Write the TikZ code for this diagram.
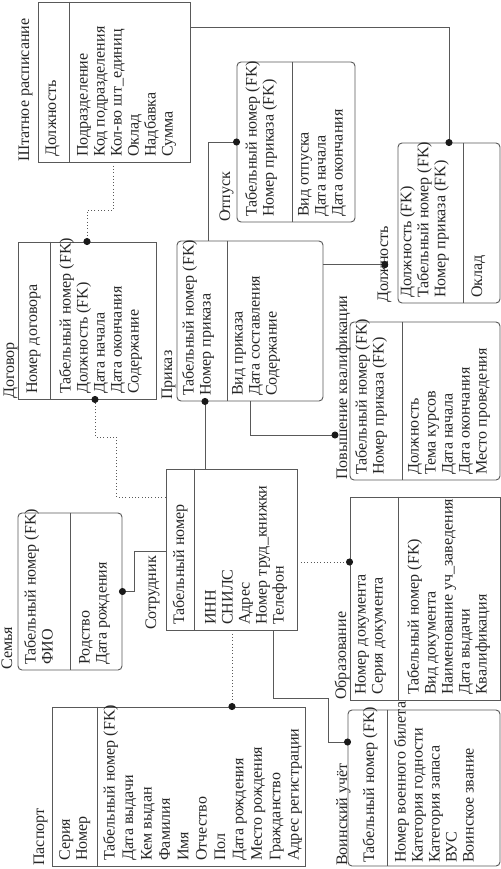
\documentclass[tikz,border=0pt]{standalone}
\usepackage{fontspec}
\setmainfont{Liberation Serif}
\usetikzlibrary{arrows.meta,fit}

\begin{document}
\begin{tikzpicture}[
  x=0.3mm, y=0.3mm,
  font=\fontsize{13.7}{14.5}\selectfont,
  ent/.style={draw=black!65, line width=0.8pt, inner sep=0pt},
  rnd/.style={ent, rounded corners=1.2mm},
  sep/.style={draw=black!65, line width=0.8pt},
  txt/.style={rotate=90, anchor=north west, inner sep=0pt, align=left,
    text=black!85, execute at begin node=\strut},
  rel/.style={draw=black!65, line width=0.8pt},
  dotrel/.style={rel, dotted},
  endot/.style={-{Circle[length=2.1mm, color=black!90]}, shorten >=-1.05mm}
]
\path[use as bounding box] (0,0) rectangle (501,-869);

% Штатное расписание
\node[ent, fit={(38,-2) (190,-162)}] (shtat) {};
\draw[sep] (shtat.north -| 69,0) -- (shtat.south -| 69,0);
\node[txt] (shtat-t) at (17,-162) {Штатное расписание};
\node[txt] (shtat-k) at (44,-157) {Должность};
\node[txt] (shtat-a) at (77,-157) {Подразделение\\Код подразделения\\Кол-во шт\_единиц\\Оклад\\Надбавка\\Сумма};

% Договор
\node[ent, fit={(18,-242) (156,-399)}] (dogovor) {};
\draw[sep] (dogovor.north -| 50,0) -- (dogovor.south -| 50,0);
\node[txt] (dogovor-t) at (2,-399) {Договор};
\node[txt] (dogovor-k) at (25,-394) {Номер договора};
\node[txt] (dogovor-a) at (59,-394) {Табельный номер (FK)\\Должность (FK)\\Дата начала\\Дата окончания\\Содержание};

% Приказ
\node[rnd, fit={(177,-241) (323,-401)}] (prikaz) {};
\draw[sep] (prikaz.north -| 227,0) -- (prikaz.south -| 227,0);
\node[txt] (prikaz-t) at (160,-400) {Приказ};
\node[txt] (prikaz-k) at (182,-396) {Табельный номер (FK)\\Номер приказа};
\node[txt] (prikaz-a) at (232,-396) {Вид приказа\\Дата составления\\Содержание};

% Отпуск
\node[rnd, fit={(237,-62) (355,-222)}] (otpusk) {};
\draw[sep] (otpusk.north -| 292,0) -- (otpusk.south -| 292,0);
\node[txt] (otpusk-t) at (218,-222) {Отпуск};
\node[txt] (otpusk-k) at (245,-217) {Табельный номер (FK)\\Номер приказа (FK)};
\node[txt] (otpusk-a) at (298,-217) {Вид отпуска\\Дата начала\\Дата окончания};

% Должность
\node[rnd, fit={(398,-143) (500,-303)}] (dolzh) {};
\draw[sep] (dolzh.north -| 463,0) -- (dolzh.south -| 463,0);
\node[txt] (dolzh-t) at (376,-303) {Должность};
\node[txt] (dolzh-k) at (400,-298) {Должность (FK)\\Табельный номер (FK)\\Номер приказа (FK)};
\node[txt] (dolzh-a) at (470,-298) {Оклад};

% Повышение квалификации
\node[rnd, fit={(350,-322) (500,-480)}] (povysh) {};
\draw[sep] (povysh.north -| 402,0) -- (povysh.south -| 402,0);
\node[txt] (povysh-t) at (335,-480) {Повышение квалификации};
\node[txt] (povysh-k) at (355,-475) {Табельный номер (FK)\\Номер приказа (FK)};
\node[txt] (povysh-a) at (408,-475) {Должность\\Тема курсов\\Дата начала\\Дата окончания\\Место проведения};

% Образование
\node[ent, fit={(350,-497) (500,-700)}] (obraz) {};
\draw[sep] (obraz.north -| 398,0) -- (obraz.south -| 398,0);
\node[txt] (obraz-t) at (334,-700) {Образование};
\node[txt] (obraz-k) at (355,-695) {Номер документа\\Серия документа};
\node[txt] (obraz-a) at (407,-695) {Табельный номер (FK)\\Вид документа\\Наименование уч\_заведения\\Дата выдачи\\Квалификация};

% Воинский учёт
\node[rnd, fit={(348,-710) (500,-866)}] (voin) {};
\draw[sep] (voin.north -| 387,0) -- (voin.south -| 387,0);
\node[txt] (voin-t) at (335,-866) {Воинский учёт};
\node[txt] (voin-k) at (362,-863) {Табельный номер (FK)};
\node[txt] (voin-a) at (394,-863) {Номер военного билета\\Категория годности\\Категория запаса\\ВУС\\Воинское звание};

% Сотрудник
\node[ent, fit={(166,-469) (297,-630)}] (sotr) {};
\draw[sep] (sotr.north -| 194,0) -- (sotr.south -| 194,0);
\node[txt] (sotr-t) at (144,-630) {Сотрудник};
\node[txt] (sotr-k) at (172,-625) {Табельный номер};
\node[txt] (sotr-a) at (205,-625) {ИНН\\СНИЛС\\Адрес\\Номер труд\_книжки\\Телефон};

% Семья
\node[rnd, fit={(18,-513) (122,-670)}] (semya) {};
\draw[sep] (semya.north -| 70,0) -- (semya.south -| 70,0);
\node[txt] (semya-t) at (0,-670) {Семья};
\node[txt] (semya-k) at (24,-665) {Табельный номер (FK)\\ФИО};
\node[txt] (semya-a) at (79,-665) {Родство\\Дата рождения};

% Паспорт
\node[ent, fit={(52,-707) (305,-866)}] (pasport) {};
\draw[sep] (pasport.north -| 97,0) -- (pasport.south -| 97,0);
\node[txt] (pasport-t) at (32,-866) {Паспорт};
\node[txt] (pasport-k) at (59,-861) {Серия\\Номер};
\node[txt, font=\fontsize{13.7}{15.7}\selectfont] (pasport-a) at (103,-861) {Табельный номер (FK)\\Дата выдачи\\Кем выдан\\Фамилия\\Имя\\Отчество\\Пол\\Дата рождения\\Место рождения\\Гражданство\\Адрес регистрации};

% связи
\draw[rel, endot] (shtat.east |- 0,-27) -| (dolzh.north);
\draw[dotrel, endot] (shtat.south -| 113,0) -- ++(0,-48) -| (dogovor.north);
\draw[dotrel, endot] (sotr.west |- 0,-497) -- ++(-49,0) -- ++(0,60) -| (dogovor.south -| 95,0);
\draw[rel, endot] (prikaz.north -| 208,0) |- (otpusk.west);
\draw[rel, endot] (prikaz.east |- dolzh-t.center) -- (dolzh-t.center);
\draw[rel, endot] (sotr.north -| 205,0) -- (prikaz.south -| 205,0);
\draw[rel, endot] (prikaz.south -| 250,0) |- (povysh-t.north |- 0,-435);
\draw[rel, endot] (sotr.west |- 0,-551) -- ++(-31,0) |- (semya.east);
\draw[dotrel, endot] (sotr.east |- 0,-562) -- (obraz.west |- 0,-562);
\draw[rel, endot] (sotr.south -| 273,0) -- ++(0,-68) -- ++(55,0) |- (voin.west |- 0,-742);
\draw[dotrel, endot] (sotr.south -| 232,0) -- (pasport.north -| 232,0);
\end{tikzpicture}
\end{document}
